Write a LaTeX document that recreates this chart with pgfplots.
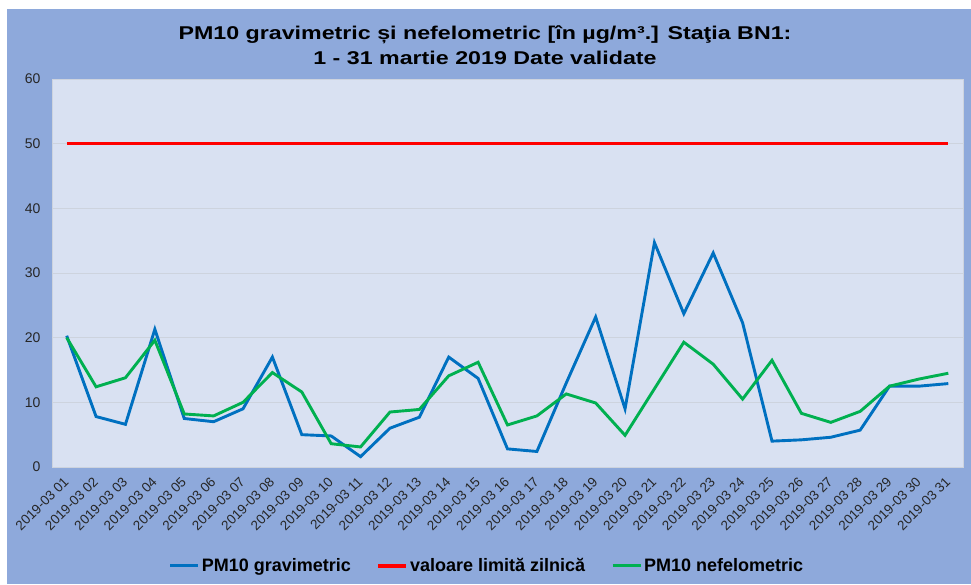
\documentclass[border=0pt]{standalone}
\usepackage{fontspec}
\setmainfont{Liberation Sans}
\usepackage{pgfplots}
\pgfplotsset{compat=1.18}
\usepackage{pgfplotstable}
\definecolor{bgblue}{HTML}{8EA9DB}
\definecolor{plotbg}{HTML}{D9E1F2}
\definecolor{lblue}{HTML}{0070C0}
\definecolor{lgreen}{HTML}{00B050}
\definecolor{lred}{HTML}{FF0000}
\definecolor{gridc}{HTML}{CDD3DE}

\pgfplotstableread{
day grav nef lim
1 20.3 20.0 50
2 7.8 12.4 50
3 6.6 13.8 50
4 21.3 19.6 50
5 7.5 8.2 50
6 7.0 7.9 50
7 9.0 10.0 50
8 17.0 14.6 50
9 5.0 11.6 50
10 4.8 3.6 50
11 1.6 3.1 50
12 6.0 8.5 50
13 7.7 8.9 50
14 17.0 14.1 50
15 13.7 16.2 50
16 2.8 6.5 50
17 2.4 7.9 50
18 13.0 11.3 50
19 23.2 9.9 50
20 9.0 4.9 50
21 34.7 12.1 50
22 23.7 19.3 50
23 33.1 15.9 50
24 22.3 10.5 50
25 4.0 16.5 50
26 4.2 8.3 50
27 4.6 6.9 50
28 5.7 8.6 50
29 12.5 12.5 50
30 12.5 13.6 50
31 12.9 14.5 50
}\data

\begin{document}
\begin{tikzpicture}
\fill[white] (0pt,0pt) rectangle (971pt,584pt);
\fill[bgblue] (7pt,0pt) rectangle (971pt,575pt);
\node[font=\bfseries\fontsize{18.5}{25}\selectfont, align=center, xscale=1.255] at (485pt,539pt)
  {PM10 gravimetric și nefelometric [în µg/m³.] Staţia BN1:\\1 - 31 martie 2019 Date validate};
\begin{axis}[
  at={(52pt,117pt)}, anchor=south west,
  scale only axis, width=911pt, height=388pt,
  xmin=0.5, xmax=31.5, ymin=0, ymax=60,
  ytick={0,10,...,60},
  xtick={1,...,31},
  xticklabels={2019-03 01,2019-03 02,2019-03 03,2019-03 04,2019-03 05,2019-03 06,2019-03 07,2019-03 08,2019-03 09,2019-03 10,2019-03 11,2019-03 12,2019-03 13,2019-03 14,2019-03 15,2019-03 16,2019-03 17,2019-03 18,2019-03 19,2019-03 20,2019-03 21,2019-03 22,2019-03 23,2019-03 24,2019-03 25,2019-03 26,2019-03 27,2019-03 28,2019-03 29,2019-03 30,2019-03 31},
  /pgf/number format/assume math mode=true,
  axis background/.style={fill=plotbg},
  axis line style={draw=gridc},
  ymajorgrids, grid style={draw=gridc, line width=0.8pt},
  major tick length=0pt,
  tick label style={font=\fontsize{14}{16}\selectfont, text=black!85},
  yticklabel style={xshift=-8pt},
  xticklabel style={xshift=2pt, yshift=-10pt, rotate=45, anchor=east, font=\fontsize{13.5}{15}\selectfont},
  legend columns=3,
  legend style={draw=none, fill=none, at={(0.4775,-0.255)}, anchor=center,
    font=\bfseries\fontsize{18}{20}\selectfont,
    /tikz/every even column/.append style={column sep=24pt}},
  legend image code/.code={\draw[#1] (0pt,0pt) -- (28pt,0pt);},
]
\addplot[lblue, line width=2.9pt, no markers] table[x=day, y=grav] {\data};
\addlegendentry{PM10 gravimetric}
\addplot[lred, line width=3.2pt, no markers] table[x=day, y=lim] {\data};
\addlegendentry{valoare limită zilnică}
\addplot[lgreen, line width=2.9pt, no markers] table[x=day, y=nef] {\data};
\addlegendentry{PM10 nefelometric}
\end{axis}
\end{tikzpicture}
\end{document}
